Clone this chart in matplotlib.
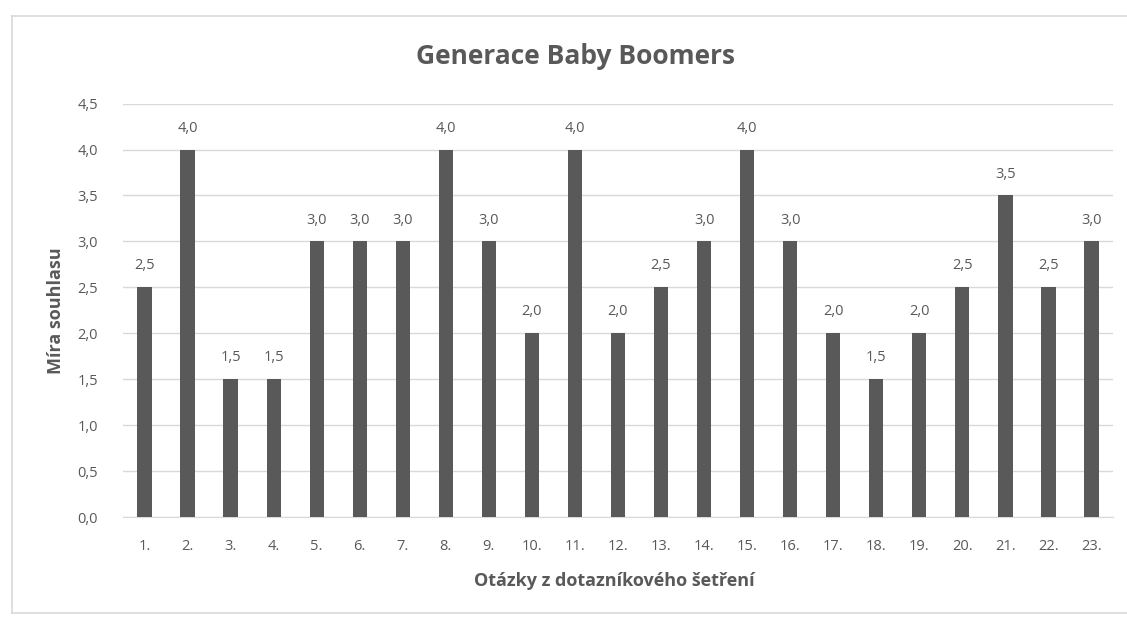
import matplotlib.pyplot as plt
from matplotlib.lines import Line2D
from matplotlib.ticker import FuncFormatter

otazky = [f"{i}." for i in range(1, 24)]
souhlas = [2.5, 4.0, 1.5, 1.5, 3.0, 3.0, 3.0, 4.0, 3.0, 2.0, 4.0, 2.0,
           2.5, 3.0, 4.0, 3.0, 2.0, 1.5, 2.0, 2.5, 3.5, 2.5, 3.0]
y_ticks = [0.0, 0.5, 1.0, 1.5, 2.0, 2.5, 3.0, 3.5, 4.0, 4.5]

plt.rcParams['font.family'] = ['Open Sans', 'DejaVu Sans']
text_color = '#595959'
grid_color = '#d9d9d9'


def cz(v, pos=None):
    return f"{v:.1f}".replace('.', ',')


fig = plt.figure(figsize=(11.27, 6.18), dpi=100)
ax = fig.add_axes([0.1091, 0.1634, 0.8785, 0.669])

x = range(len(otazky))
ax.bar(x, souhlas, width=0.33, color='#595959', zorder=3)
for xi, v in zip(x, souhlas):
    ax.annotate(cz(v), (xi, v), xytext=(0, 10), textcoords='offset points',
                ha='center', va='bottom', fontsize=10.5, color=text_color)

ax.set_xlim(-0.5, len(otazky) - 0.5)
ax.set_ylim(0, 4.5)
ax.set_yticks(y_ticks)
ax.yaxis.set_major_formatter(FuncFormatter(cz))
ax.set_xticks(list(x))
ax.set_xticklabels(otazky)
ax.tick_params(axis='both', length=0, labelsize=10.5, colors=text_color)
ax.tick_params(axis='x', pad=16)
ax.tick_params(axis='y', pad=18)
ax.grid(axis='y', color=grid_color, linewidth=1, zorder=0)
for side in ['top', 'right', 'left']:
    ax.spines[side].set_visible(False)
ax.spines['bottom'].set_color(grid_color)

fig.text(575 / 1127, 1 - 57 / 618, 'Generace Baby Boomers', fontsize=19,
         fontweight='bold', color=text_color, ha='center', va='center')
ax.set_xlabel('Otázky z dotazníkového šetření', fontsize=13,
              fontweight='bold', color=text_color, va='center')
ax.xaxis.set_label_coords(0.496, -0.155)
ax.set_ylabel('Míra souhlasu', fontsize=13, fontweight='bold',
              color=text_color, va='center')
ax.yaxis.set_label_coords(-0.0677, 0.5)

# chart frame
fig.add_artist(Line2D([12 / 1127, 1.0], [1 - 16 / 618, 1 - 16 / 618],
                      color=grid_color, linewidth=1.2))
fig.add_artist(Line2D([12 / 1127, 12 / 1127], [1 - 16 / 618, 1 - 613 / 618],
                      color=grid_color, linewidth=1.2))
fig.add_artist(Line2D([12 / 1127, 1.0], [1 - 613 / 618, 1 - 613 / 618],
                      color=grid_color, linewidth=1.2))

fig.savefig('out.png', dpi=100)
